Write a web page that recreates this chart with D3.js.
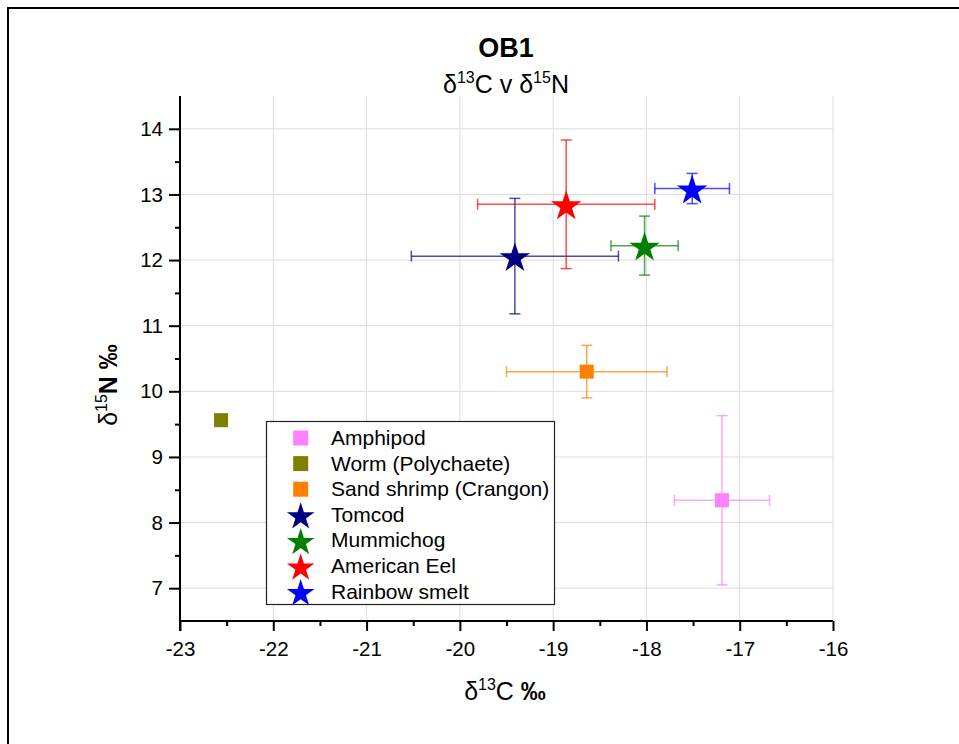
<!DOCTYPE html>
<html>
<head>
<meta charset="utf-8">
<script src="https://cdn.jsdelivr.net/npm/d3@7/dist/d3.min.js"></script>
<style>
  html, body { margin: 0; padding: 0; background: #fff; }
  text { font-family: "Liberation Sans", Arial, sans-serif; }
</style>
</head>
<body>
<svg id="chart" width="959" height="744"></svg>
<script>
// ---- data ----
const species = ["Amphipod", "Worm (Polychaete)", "Sand shrimp (Crangon)", "Tomcod", "Mummichog", "American Eel", "Rainbow smelt"];
const shapes  = ["square", "square", "square", "star", "star", "star", "star"];
const colors  = ["#ff80ff", "#808000", "#ff8000", "#000080", "#008000", "#ff0000", "#0000ff"];
const d13C    = [-17.19, -22.56, -18.64, -19.41, -18.02, -18.86, -17.51];
const d13C_sd = [0.51, 0, 0.86, 1.11, 0.36, 0.95, 0.40];
const d15N    = [8.34, 9.56, 10.30, 12.06, 12.22, 12.85, 13.09];
const d15N_sd = [1.29, 0, 0.40, 0.88, 0.45, 0.98, 0.23];
const xTicks  = [-23, -22, -21, -20, -19, -18, -17, -16];
const yTicks  = [7, 8, 9, 10, 11, 12, 13, 14];

(function () {
const svg = d3.select("#chart");
const pL = 180, pR = 833, pT = 96, pB = 621;
const x = d3.scaleLinear().domain([-23, -16]).range([pL, pR]);
const y = d3.scaleLinear().domain([6.5, 14.5]).range([pB, pT]);

// outer frame (page border; right and bottom edges lie outside the view)
svg.append("rect").attr("x", 8).attr("y", 8).attr("width", 1000).attr("height", 800)
  .attr("fill", "none").attr("stroke", "#000").attr("stroke-width", 2);

// grid
svg.append("g").selectAll("line").data(xTicks.slice(1)).join("line")
  .attr("x1", d => x(d)).attr("x2", d => x(d)).attr("y1", pT).attr("y2", pB)
  .attr("stroke", "#dcdcdc").attr("stroke-width", 1);
svg.append("g").selectAll("line").data(yTicks).join("line")
  .attr("x1", pL).attr("x2", pR).attr("y1", d => y(d)).attr("y2", d => y(d))
  .attr("stroke", "#dcdcdc").attr("stroke-width", 1);

// axes
const fmt = d => String(d);
const xMinor = d3.range(-22.5, -16, 1);
const yMinor = d3.range(7.5, 14.5, 1);
const xAxis = svg.append("g").attr("transform", `translate(0,${pB})`)
  .call(d3.axisBottom(x).tickValues(xTicks).tickSize(10).tickPadding(10).tickFormat(fmt));
const xAxisMinor = svg.append("g").attr("transform", `translate(0,${pB})`)
  .call(d3.axisBottom(x).tickValues(xMinor).tickSize(5).tickFormat(""));
const yAxis = svg.append("g").attr("transform", `translate(${pL},0)`)
  .call(d3.axisLeft(y).tickValues(yTicks).tickSize(11).tickPadding(6).tickFormat(fmt));
const yAxisMinor = svg.append("g").attr("transform", `translate(${pL},0)`)
  .call(d3.axisLeft(y).tickValues(yMinor).tickSize(5).tickFormat(""));
[xAxis, xAxisMinor, yAxis, yAxisMinor].forEach(g => {
  g.select(".domain").remove();
  g.selectAll("line").attr("stroke", "#000").attr("stroke-width", 2);
  g.selectAll("text").attr("font-size", 20.5).attr("fill", "#000")
    .style("font-family", "'Liberation Sans', Arial, sans-serif");
});
svg.append("line").attr("x1", pL).attr("x2", pL).attr("y1", pT).attr("y2", pB + 10)
  .attr("stroke", "#000").attr("stroke-width", 2);
svg.append("line").attr("x1", pL).attr("x2", pR).attr("y1", pB).attr("y2", pB)
  .attr("stroke", "#000").attr("stroke-width", 2);

// error bars and markers
const data = species.map((s, i) => ({s, shape: shapes[i], c: colors[i], x: d13C[i], xe: d13C_sd[i], y: d15N[i], ye: d15N_sd[i]}));
const cap = 5.5;
const eb = svg.append("g");
data.filter(d => d.xe > 0 || d.ye > 0).forEach(d => {
  const g = eb.append("g").attr("stroke", d.c).attr("stroke-width", 1.5).attr("stroke-opacity", 0.7);
  g.append("line").attr("x1", x(d.x - d.xe)).attr("x2", x(d.x + d.xe)).attr("y1", y(d.y)).attr("y2", y(d.y));
  g.append("line").attr("x1", x(d.x - d.xe)).attr("x2", x(d.x - d.xe)).attr("y1", y(d.y) - cap).attr("y2", y(d.y) + cap);
  g.append("line").attr("x1", x(d.x + d.xe)).attr("x2", x(d.x + d.xe)).attr("y1", y(d.y) - cap).attr("y2", y(d.y) + cap);
  g.append("line").attr("x1", x(d.x)).attr("x2", x(d.x)).attr("y1", y(d.y - d.ye)).attr("y2", y(d.y + d.ye));
  g.append("line").attr("x1", x(d.x) - cap).attr("x2", x(d.x) + cap).attr("y1", y(d.y - d.ye)).attr("y2", y(d.y - d.ye));
  g.append("line").attr("x1", x(d.x) - cap).attr("x2", x(d.x) + cap).attr("y1", y(d.y + d.ye)).attr("y2", y(d.y + d.ye));
});

const starR = 16, sq = 14;
const starPath = d3.symbol().type(d3.symbolStar).size((starR * starR) / 0.8908130915292852)();
const starPathL = d3.symbol().type(d3.symbolStar).size((14.5 * 14.5) / 0.8908130915292852)();
const mk = svg.append("g");
data.forEach(d => {
  if (d.shape === "star") {
    mk.append("path").attr("d", starPath).attr("fill", d.c)
      .attr("transform", `translate(${x(d.x)},${y(d.y) + 2})`);
  } else {
    mk.append("rect").attr("x", x(d.x) - sq / 2).attr("y", y(d.y) - sq / 2)
      .attr("width", sq).attr("height", sq).attr("fill", d.c);
  }
});

// legend
const lg = svg.append("g");
lg.append("rect").attr("x", 266.5).attr("y", 421.5).attr("width", 288).attr("height", 183)
  .attr("fill", "#fff").attr("stroke", "#222").attr("stroke-width", 1.2);
data.forEach((d, i) => {
  const cy = 438 + i * 25.6;
  if (d.shape === "star") {
    lg.append("path").attr("d", starPathL).attr("fill", d.c)
      .attr("transform", `translate(300.7,${cy + 2})`);
  } else {
    lg.append("rect").attr("x", 300.7 - 7.5).attr("y", cy - 7.5).attr("width", 15).attr("height", 15).attr("fill", d.c);
  }
  lg.append("text").attr("x", 331).attr("y", cy + 7).attr("font-size", 21).attr("fill", "#000").text(d.s);
});

// titles
svg.append("text").attr("x", 506).attr("y", 57).attr("text-anchor", "middle")
  .attr("font-size", 27).attr("font-weight", "bold").text("OB1");
const sub = svg.append("text").attr("x", 506).attr("y", 93).attr("text-anchor", "middle").attr("font-size", 25);
sub.append("tspan").text("δ");
sub.append("tspan").attr("dy", -10).attr("font-size", 16).text("13");
sub.append("tspan").attr("dy", 10).text("C v δ");
sub.append("tspan").attr("dy", -10).attr("font-size", 16).text("15");
sub.append("tspan").attr("dy", 10).text("N");

const xl = svg.append("text").attr("x", 505).attr("y", 700).attr("text-anchor", "middle").attr("font-size", 25);
xl.append("tspan").text("δ");
xl.append("tspan").attr("dy", -10).attr("font-size", 16).text("13");
xl.append("tspan").attr("dy", 10).text("C ");
xl.append("tspan").attr("font-weight", "bold").text("‰");

const yl = svg.append("text").attr("transform", "translate(117,385) rotate(-90)").attr("text-anchor", "middle").attr("font-size", 25);
yl.append("tspan").text("δ");
yl.append("tspan").attr("dy", -10).attr("font-size", 16).text("15");
yl.append("tspan").attr("dy", 10).attr("font-weight", "bold").text("N ‰");
})();
</script>
</body>
</html>
